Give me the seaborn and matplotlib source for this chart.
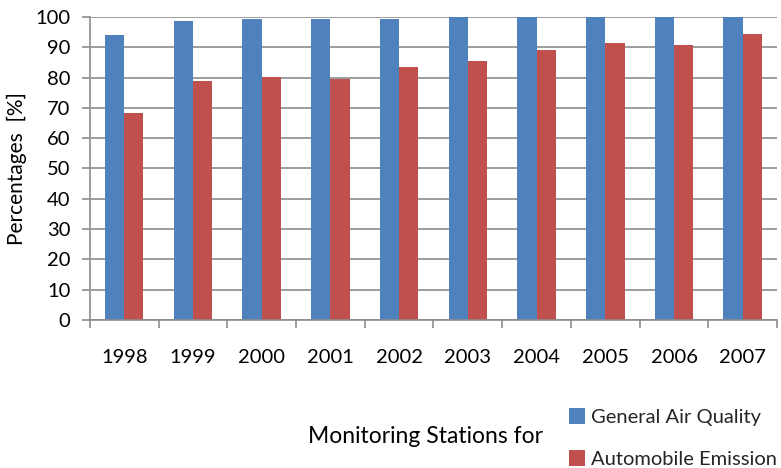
import matplotlib
matplotlib.use("Agg")
import matplotlib.pyplot as plt
import seaborn as sns
import pandas as pd
import numpy as np

years = ["1998", "1999", "2000", "2001", "2002", "2003", "2004", "2005", "2006", "2007"]
general_air = [94.1, 98.6, 99.2, 99.2, 99.2, 100, 100, 100, 100, 100]
automobile = [68.3, 78.9, 80.1, 79.4, 83.4, 85.6, 89.0, 91.3, 90.8, 94.2]
series_names = ["General Air Quality", "Automobile Emission"]

df = pd.DataFrame({
    "Year": years * 2,
    "Value": general_air + automobile,
    "Series": [series_names[0]] * len(years) + [series_names[1]] * len(years),
})

sns.set_theme(style="white")
plt.rcParams['font.family'] = ['Lato', 'DejaVu Sans']

fig = plt.figure(figsize=(7.81, 4.68), dpi=100)
ax = fig.add_axes([0.115, 0.316, 0.88, 0.648])

sns.barplot(data=df, x="Year", y="Value", hue="Series",
            palette=["#4F81BD", "#C0504D"], width=0.56, saturation=1,
            ax=ax, legend=True)

for p in ax.patches:
    p.set_edgecolor("none")

ax.set_ylim(0, 100)
ax.set_xlim(-0.5, len(years) - 0.5)
ax.set_yticks(np.arange(0, 101, 10))
ax.yaxis.grid(True, color="#8c8c8c", linewidth=1.2)
ax.set_axisbelow(True)
for s in ["top", "right"]:
    ax.spines[s].set_visible(False)
for s in ["left", "bottom"]:
    ax.spines[s].set_color("#8c8c8c")
    ax.spines[s].set_linewidth(1.2)

ax.set_xticks(np.arange(len(years)))
ax.set_xticklabels(years)
ax.set_xticks(np.arange(-0.5, len(years), 1), minor=True)
ax.tick_params(axis="x", which="major", length=0, pad=21, labelsize=14.5, labelcolor="black")
ax.tick_params(axis="x", which="minor", length=6, width=1.2, color="#8c8c8c", direction="out", bottom=True)
ax.tick_params(axis="y", length=6, width=1.2, color="#8c8c8c", direction="out", left=True, labelsize=14.5, labelcolor="black", pad=8)

ax.set_ylabel("Percentages  [%]", fontsize=15, color="black", labelpad=6)
ax.set_xlabel("")
fig.text(0.545, 0.068, "Monitoring Stations for", fontsize=16.5, ha="center", va="center", color="black")

handles, labels = ax.get_legend_handles_labels()
ax.legend_.remove()
fig.legend(handles, labels, loc="center left", bbox_to_anchor=(0.71, 0.064),
           frameon=False, fontsize=14.5, handlelength=0.8, handleheight=0.8,
           labelspacing=1.2, handletextpad=0.3, borderpad=0.2)

fig.savefig("out.png", dpi=100)
